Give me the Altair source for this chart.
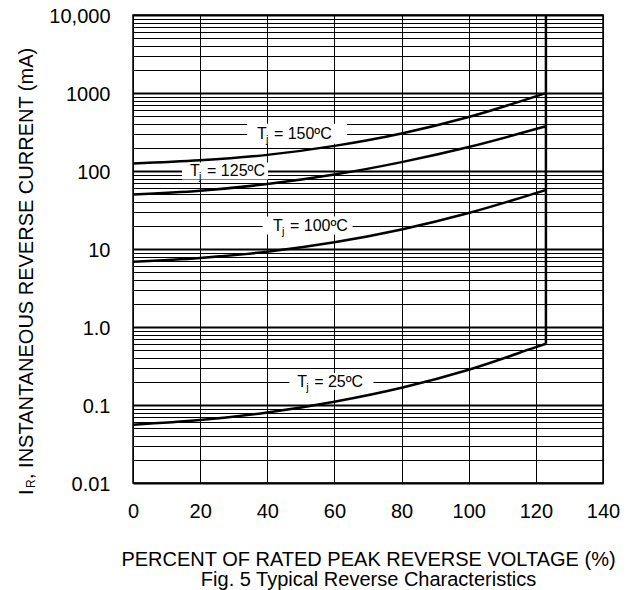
import altair as alt
import pandas as pd

# ---------------- data ----------------
pct = [0, 20, 40, 60, 80, 100, 120, 123]
ir_150 = [125, 137, 161, 210, 303, 492, 906, 998]
ir_125 = [50, 56, 68, 90, 130, 203, 345, 375]
ir_100 = [6.85, 7.69, 9.25, 12.2, 17.8, 28.9, 52, 57]
ir_25 = [0.056, 0.064, 0.080, 0.110, 0.166, 0.283, 0.551, 0.61]
temps = ["150", "125", "100", "25"]

breakdown_pct = [123]
breakdown_low = [0.61]
breakdown_high = [10000]

x_ticks = [0, 20, 40, 60, 80, 100, 120, 140]
y_decades = [0.01, 0.1, 1, 10, 100, 1000, 10000]
y_labels = ["0.01", "0.1", "1.0", "10", "100", "1000", "10,000"]
y_grid = [k * d for d in y_decades[:-1] for k in range(1, 10)] + [10000]

label_rest = ["= 150ºC", "= 125ºC", "= 100ºC", "= 25ºC"]
label_x = [36.9, 17.0, 41.7, 48.9]
label_y = [300, 100, 20, 0.2]
label_box_x = [48.9, 27.4, 52.0, 59.1]
label_box_w = [100, 86, 90, 84]

FONT = "Liberation Sans"

# ---------------- tables ----------------
curves = pd.DataFrame({
    "pct": pct * 4,
    "ir": ir_150 + ir_125 + ir_100 + ir_25,
    "temp": sum([[t] * len(pct) for t in temps], []),
})
knee = pd.DataFrame({"pct": breakdown_pct, "lo": breakdown_low, "hi": breakdown_high})
labels = pd.DataFrame({
    "x": label_x, "y": label_y, "rest": label_rest,
    "bx": label_box_x, "bs": [w * w for w in label_box_w],
})
ytitle = pd.DataFrame({"a": [0]})

label_expr = " : ".join(
    f"datum.value == {v} ? '{s}'" for v, s in zip(y_decades, y_labels)
) + " : ''"
decade_test = "indexof([" + ",".join(str(v) for v in y_decades) + "], datum.value) >= 0"

xscale = alt.Scale(domain=[0, 140], nice=False, zero=False)
yscale = alt.Scale(type="log", domain=[0.01, 10000], nice=False)

xaxis = alt.Axis(
    values=x_ticks, grid=True, gridColor="black", gridWidth=1, ticks=False,
    domain=False, labelFontSize=20, labelPadding=18, labelFlush=False,
    labelColor="black", labelFont=FONT,
    title=["PERCENT OF RATED PEAK REVERSE VOLTAGE (%)",
           "Fig. 5  Typical Reverse Characteristics"],
    titleFontSize=20, titleFontWeight="normal", titleFont=FONT, titleColor="black",
    titleY=82, titleBaseline="alphabetic", titleLineHeight=20,
)
yaxis = alt.Axis(
    values=y_grid, grid=True, gridColor="black",
    gridWidth={"condition": {"test": decade_test, "value": 2}, "value": 1},
    ticks=False, domain=False, labelExpr=label_expr, labelOverlap=False,
    labelFontSize=20, labelPadding=23, labelColor="black", labelFont=FONT,
    labelBound=False, labelOffset=1.5, title=None,
)

X = alt.X("pct:Q", scale=xscale, axis=xaxis)
Y = alt.Y("ir:Q", scale=yscale, axis=yaxis)

lines = alt.Chart(curves).mark_line(
    color="black", strokeWidth=2.5, interpolate="monotone"
).encode(x=X, y=Y, detail="temp:N")

rule = alt.Chart(knee).mark_rule(color="black", strokeWidth=2.5).encode(
    x=alt.X("pct:Q", scale=xscale),
    y=alt.Y("lo:Q", scale=yscale),
    y2="hi:Q",
)

boxes = alt.Chart(labels).mark_point(
    shape="M-1,-0.2H1V0.2H-1Z", filled=True, color="white", opacity=1, strokeWidth=0
).encode(
    x=alt.X("bx:Q", scale=xscale),
    y=alt.Y("y:Q", scale=yscale),
    size=alt.Size("bs:Q", scale=None),
)

t_main = alt.Chart(labels).mark_text(
    text="T", align="left", baseline="middle", fontSize=16, font=FONT, color="black"
).encode(x=alt.X("x:Q", scale=xscale), y=alt.Y("y:Q", scale=yscale))
t_sub = alt.Chart(labels).mark_text(
    text="j", align="left", baseline="middle", fontSize=11, font=FONT, color="black",
    dx=9, dy=6,
).encode(x=alt.X("x:Q", scale=xscale), y=alt.Y("y:Q", scale=yscale))
t_rest = alt.Chart(labels).mark_text(
    align="left", baseline="middle", fontSize=16, font=FONT, color="black", dx=17
).encode(x=alt.X("x:Q", scale=xscale), y=alt.Y("y:Q", scale=yscale), text="rest:N")

yt1 = alt.Chart(ytitle).mark_text(
    text="I", angle=270, align="left", baseline="alphabetic", fontSize=20,
    font=FONT, color="black",
).encode(x=alt.value(-100.5), y=alt.value(480))
yt2 = alt.Chart(ytitle).mark_text(
    text="R", angle=270, align="left", baseline="alphabetic", fontSize=12,
    font=FONT, color="black",
).encode(x=alt.value(-98), y=alt.value(473))
yt3 = alt.Chart(ytitle).mark_text(
    text=", INSTANTANEOUS REVERSE CURRENT (mA)", angle=270, align="left",
    baseline="alphabetic", fontSize=20, font=FONT, color="black",
).encode(x=alt.value(-100.5), y=alt.value(464))

chart = alt.layer(
    boxes, lines, rule, t_main, t_sub, t_rest, yt1, yt2, yt3
).properties(
    width=470, height=468,
    padding={"left": 125, "top": 7, "right": 18, "bottom": 107},
    autosize=alt.AutoSizeParams(type="none"),
).configure_view(stroke="black", strokeWidth=1.5)

chart.save("out.html", embed_options={"renderer": "svg", "actions": False})
